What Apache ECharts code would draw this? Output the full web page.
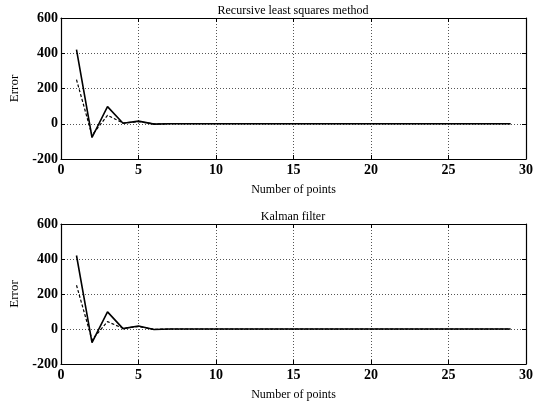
<!DOCTYPE html>
<html>
<head>
<meta charset="utf-8">
<script src="https://cdn.jsdelivr.net/npm/echarts@6/dist/echarts.min.js"></script>
<style>html,body{margin:0;padding:0;background:#fff}#c{width:536px;height:404px}</style>
</head>
<body>
<div id="c"></div>
<script>
// Data
var points = [];
for (var i = 1; i <= 29; i++) points.push(i);
var rlsSolid  = [420, -78, 97, 3, 15, -2, 0, 0, 0, 0, 0, 0, 0, 0, 0, 0, 0, 0, 0, 0, 0, 0, 0, 0, 0, 0, 0, 0, 0];
var rlsDashed = [250, -65, 48, 4, 12, -1, 0, 0, 0, 0, 0, 0, 0, 0, 0, 0, 0, 0, 0, 0, 0, 0, 0, 0, 0, 0, 0, 0, 0];
var kfSolid   = [420, -78, 98, 2, 17, -3, 0, 0, 0, 0, 0, 0, 0, 0, 0, 0, 0, 0, 0, 0, 0, 0, 0, 0, 0, 0, 0, 0, 0];
var kfDashed  = [250, -62, 42, 4, 14, -2, 0, 0, 0, 0, 0, 0, 0, 0, 0, 0, 0, 0, 0, 0, 0, 0, 0, 0, 0, 0, 0, 0, 0];
var titles = ['Recursive least squares method', 'Kalman filter'];
var xName = 'Number of points';
var yName = 'Error';

function pairs(vals) { return vals.map(function (v, i) { return [points[i], v]; }); }

var FONT = 'Liberation Serif';
var grids = [
  { left: 61, right: 9, top: 18, height: 141 },
  { left: 61, right: 9, top: 224, height: 140 }
];
var xAxes = [], yAxes = [];
[0, 1].forEach(function (g) {
  xAxes.push({
    type: 'value', gridIndex: g, min: 0, max: 30, interval: 5,
    name: xName, nameLocation: 'middle', nameGap: 25,
    nameTextStyle: { fontFamily: FONT, fontSize: 12, color: '#000' },
    axisLine: { show: true, onZero: false, lineStyle: { color: '#000', width: 1.2 } },
    axisTick: { show: true, inside: true, length: 4, lineStyle: { color: '#000' } },
    axisLabel: { margin: 4, fontFamily: FONT, fontSize: 14, fontWeight: 'bold', color: '#000' },
    splitLine: { show: true, lineStyle: { type: [1, 2], color: '#555', width: 1 } }
  });
  xAxes.push({
    type: 'value', gridIndex: g, min: 0, max: 30, interval: 5, position: 'top',
    axisLine: { show: true, onZero: false, lineStyle: { color: '#000', width: 1.2 } },
    axisTick: { show: true, inside: true, length: 4, lineStyle: { color: '#000' } },
    axisLabel: { show: false }, splitLine: { show: false }
  });
  yAxes.push({
    type: 'value', gridIndex: g, min: -200, max: 600, interval: 200,
    name: yName, nameLocation: 'middle', nameGap: 38,
    nameTextStyle: { fontFamily: FONT, fontSize: 13, color: '#000' },
    axisLine: { show: true, onZero: false, lineStyle: { color: '#000', width: 1.2 } },
    axisTick: { show: true, inside: true, length: 4, lineStyle: { color: '#000' } },
    axisLabel: { margin: 3, fontFamily: FONT, fontSize: 14, fontWeight: 'bold', color: '#000' },
    splitLine: { show: true, lineStyle: { type: [1, 2], color: '#555', width: 1 } }
  });
  yAxes.push({
    type: 'value', gridIndex: g, min: -200, max: 600, interval: 200, position: 'right',
    axisLine: { show: true, onZero: false, lineStyle: { color: '#000', width: 1.2 } },
    axisTick: { show: true, inside: true, length: 4, lineStyle: { color: '#000' } },
    axisLabel: { show: false }, splitLine: { show: false }
  });
});

function line(data, g, dashed) {
  return {
    type: 'line', xAxisIndex: g * 2, yAxisIndex: g * 2, data: pairs(data),
    showSymbol: false, symbol: 'none', animation: false, silent: true,
    lineStyle: { color: '#000', width: dashed ? 1.2 : 1.6, type: dashed ? [3, 2] : 'solid' }
  };
}

var chart = echarts.init(document.getElementById('c'));
chart.setOption({
  animation: false,
  backgroundColor: '#fff',
  grid: grids,
  xAxis: xAxes,
  yAxis: yAxes,
  graphic: [
    { type: 'text', x: 293, y: 17, style: { text: titles[0], textAlign: 'center', textVerticalAlign: 'bottom', font: '12px "Liberation Serif"', fill: '#000' } },
    { type: 'text', x: 293, y: 223, style: { text: titles[1], textAlign: 'center', textVerticalAlign: 'bottom', font: '12px "Liberation Serif"', fill: '#000' } }
  ],
  series: [
    line(rlsSolid, 0, false),
    line(rlsDashed, 0, true),
    line(kfSolid, 1, false),
    line(kfDashed, 1, true)
  ]
});
</script>
</body>
</html>
